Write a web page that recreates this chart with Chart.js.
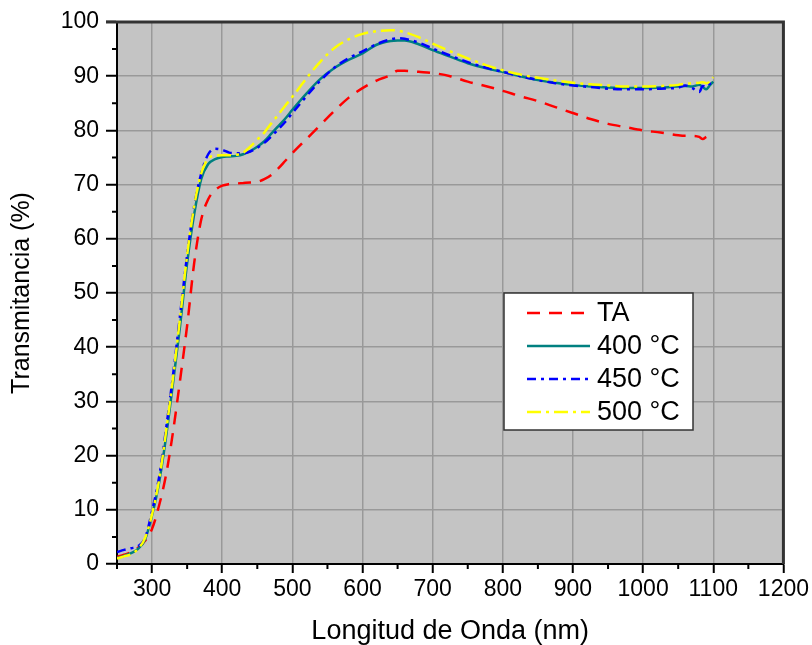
<!DOCTYPE html>
<html>
<head>
<meta charset="utf-8">
<script src="https://cdn.jsdelivr.net/npm/chart.js@4.4.1/dist/chart.umd.min.js"></script>
<style>
  html, body { margin: 0; padding: 0; background: #fff; }
</style>
</head>
<body>
<canvas id="chart" width="812" height="645"></canvas>
<script>
// wavelength (nm)
const wavelengths = [250,260,270,280,290,300,310,320,330,340,350,360,370,380,390,400,410,420,430,440,450,460,470,480,490,500,
  520,540,560,580,600,620,640,650,660,680,700,
  725,750,775,800,825,850,875,900,925,950,975,1000,1025,1050,
  1060,1070,1080,1085,1090,1095,1100];

// transmittance (%)
const tTA = [1.3,1.7,2.2,3.0,4.3,6.5,10.8,16.5,24.5,34.0,44.0,55.5,63.5,67.3,69.0,69.8,70.1,70.2,70.3,70.4,70.5,71.0,71.8,73.0,74.4,75.8,
  78.4,81.0,83.6,86.0,87.8,89.2,90.2,91.0,91.0,90.8,90.6,
  90.0,89.0,88.2,87.3,86.3,85.4,84.3,83.2,82.1,81.2,80.6,80.0,79.6,79.1,
  79.0,79.0,78.8,78.4,78.8,79.2,79.5];
const t400 = [1.1,1.5,2.0,2.8,4.5,9.0,15.0,23.5,33.5,44.0,55.5,64.5,71.0,73.8,74.7,75.1,75.2,75.3,75.6,76.2,77.0,78.0,79.4,80.8,82.2,83.8,
  86.8,89.5,91.5,93.0,94.2,95.8,96.5,96.6,96.6,95.9,94.8,
  93.6,92.4,91.5,90.8,90.0,89.3,88.8,88.4,88.1,87.9,87.8,87.8,87.9,88.1,
  88.2,88.1,88.4,88.0,87.6,88.3,89.0];
const t450 = [2.2,2.6,2.9,3.3,4.8,9.8,16.0,25.0,35.0,46.0,57.0,66.0,72.0,75.6,76.6,76.4,75.9,75.8,75.8,76.1,76.8,77.7,78.9,80.2,81.6,83.2,
  86.3,89.2,91.6,93.3,94.6,95.9,96.8,97.0,96.9,96.2,95.1,
  93.8,92.6,91.6,90.8,90.0,89.3,88.7,88.3,88.0,87.7,87.6,87.6,87.7,87.9,
  88.3,87.8,87.1,88.2,88.0,88.6,88.6];
const t500 = [1.0,1.4,1.8,2.8,4.8,9.2,15.5,24.5,34.5,45.5,57.0,66.0,72.0,74.8,75.3,75.4,75.4,75.5,75.9,77.0,78.3,79.6,81.3,82.9,84.6,86.2,
  89.6,92.7,95.2,96.8,97.8,98.3,98.5,98.4,98.1,97.2,96.0,
  94.6,93.3,92.1,91.1,90.3,89.7,89.2,88.8,88.5,88.3,88.1,88.1,88.2,88.4,
  88.6,88.7,88.8,88.9,88.7,89.0,89.8];

const seriesLabels = ["TA", "400 °C", "450 °C", "500 °C"];

const SANS = "'Liberation Sans', Arial, sans-serif";

function pts(ys) {
  return wavelengths.map((x, i) => ({ x: x, y: ys[i] }));
}

function line(label, ys, color, dash, order) {
  return {
    label: label,
    data: pts(ys),
    borderColor: color,
    backgroundColor: color,
    borderWidth: 2.5,
    borderDash: dash,
    pointRadius: 0,
    fill: false,
    cubicInterpolationMode: "monotone",
    order: order
  };
}

// plot background
const plotBg = {
  id: "plotBg",
  beforeDraw(chart) {
    const { ctx, chartArea: a } = chart;
    ctx.save();
    ctx.fillStyle = "#c4c4c4";
    ctx.fillRect(a.left, a.top, a.right - a.left, a.bottom - a.top);
    ctx.restore();
  }
};

// top/right frame and minor ticks
const frame = {
  id: "frame",
  afterDatasetsDraw(chart) {
    const { ctx, chartArea: a, scales } = chart;
    ctx.save();
    ctx.strokeStyle = "#333";
    ctx.lineWidth = 3;
    ctx.beginPath();
    ctx.moveTo(a.left - 11, a.top);
    ctx.lineTo(a.right, a.top);
    ctx.lineTo(a.right, a.bottom);
    ctx.stroke();

    ctx.strokeStyle = "#000";
    ctx.lineWidth = 2;
    ctx.beginPath();
    for (let v = 5; v < 100; v += 10) {
      const y = scales.y.getPixelForValue(v);
      ctx.moveTo(a.left - 5, y);
      ctx.lineTo(a.left, y);
    }
    for (let v = 250; v < 1200; v += 100) {
      const x = scales.x.getPixelForValue(v);
      ctx.moveTo(x, a.bottom);
      ctx.lineTo(x, a.bottom + 5);
    }
    ctx.stroke();
    ctx.restore();
  }
};

// boxed legend inside the plot
const boxLegend = {
  id: "boxLegend",
  afterDraw(chart) {
    const { ctx } = chart;
    const bx = 504, by = 293, bw = 189, bh = 137;
    ctx.save();
    ctx.fillStyle = "#fff";
    ctx.fillRect(bx, by, bw, bh);
    ctx.strokeStyle = "#333";
    ctx.lineWidth = 1.5;
    ctx.strokeRect(bx, by, bw, bh);
    ctx.font = "27px " + SANS;
    ctx.textBaseline = "middle";
    ctx.textAlign = "left";
    chart.data.datasets.forEach((ds, i) => {
      const y = by + 20 + i * 33;
      ctx.strokeStyle = ds.borderColor;
      ctx.lineWidth = ds.borderWidth;
      ctx.setLineDash(ds.borderDash || []);
      ctx.beginPath();
      ctx.moveTo(bx + 23, y);
      ctx.lineTo(bx + 86, y);
      ctx.stroke();
      ctx.setLineDash([]);
      ctx.fillStyle = "#000";
      ctx.fillText(ds.label, bx + 93, y + 1);
    });
    ctx.restore();
  }
};

new Chart(document.getElementById("chart"), {
  type: "line",
  data: {
    datasets: [
      line(seriesLabels[0], tTA, "#ff0000", [13, 9], 3),
      line(seriesLabels[1], t400, "#008080", [], 2),
      line(seriesLabels[2], t450, "#0000ff", [9, 5, 3, 5], 1),
      line(seriesLabels[3], t500, "#ffff00", [14, 5, 3, 5], 0)
    ]
  },
  options: {
    responsive: false,
    animation: false,
    layout: { padding: { top: 22, right: 28, left: 0, bottom: 0 } },
    plugins: {
      legend: { display: false },
      tooltip: { enabled: false }
    },
    scales: {
      x: {
        type: "linear",
        position: "bottom",
        min: 250,
        max: 1200,
        afterFit: s => { s.height = 81; },
        ticks: {
          stepSize: 50,
          autoSkip: false,
          maxRotation: 0,
          padding: 3,
          color: "#000",
          font: { family: SANS, size: 23 },
          callback: v => (v % 100 === 0 ? v : "")
        },
        grid: {
          color: c => (c.tick && c.tick.value % 100 === 0 && c.tick.value < 1200 ? "#999" : "rgba(0,0,0,0)"),
          lineWidth: 1.5,
          tickLength: 9,
          tickWidth: 2,
          tickColor: c => (c.tick && c.tick.value % 100 === 0 ? "#000" : "rgba(0,0,0,0)")
        },
        border: { color: "#000", width: 2 },
        title: {
          display: true,
          text: "Longitud de Onda (nm)",
          color: "#000",
          font: { family: SANS, size: 27, lineHeight: 1 },
          padding: { top: 0, bottom: 0 }
        }
      },
      y: {
        min: 0,
        max: 100,
        afterFit: s => { s.width = 117; },
        ticks: {
          stepSize: 5,
          autoSkip: false,
          padding: 7,
          color: "#000",
          font: { family: SANS, size: 23 },
          callback: v => (v % 10 === 0 ? v : "")
        },
        grid: {
          color: c => (c.tick && c.tick.value % 10 === 0 && c.tick.value > 0 && c.tick.value < 100 ? "#999" : "rgba(0,0,0,0)"),
          lineWidth: 1.5,
          tickLength: 11,
          tickWidth: 2,
          tickColor: c => (c.tick && c.tick.value % 10 === 0 ? "#000" : "rgba(0,0,0,0)")
        },
        border: { color: "#000", width: 2 },
        title: {
          display: true,
          text: "Transmitancia (%)",
          color: "#000",
          font: { family: SANS, size: 25, lineHeight: 1 },
          padding: { top: 10, bottom: 0 }
        }
      }
    }
  },
  plugins: [plotBg, frame, boxLegend]
});
</script>
</body>
</html>
